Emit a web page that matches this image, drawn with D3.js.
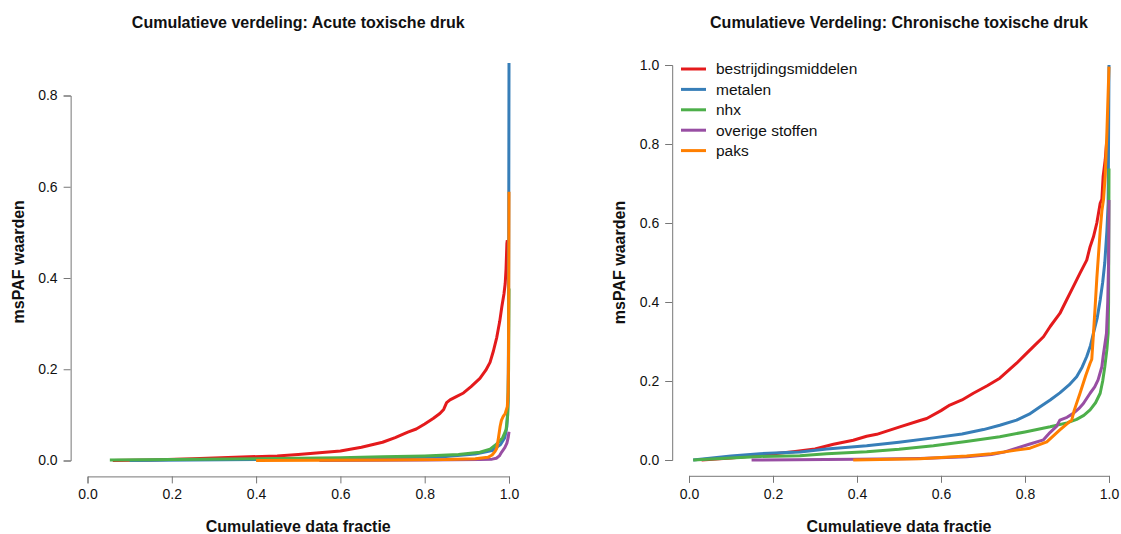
<!DOCTYPE html>
<html>
<head>
<meta charset="utf-8">
<script src="https://cdn.jsdelivr.net/npm/d3@7"></script>
<style>
  body { margin: 0; background: #fff; }
  svg { display: block; font-family: "Liberation Sans", Arial, Helvetica, sans-serif; }
</style>
</head>
<body>
<svg id="chart" width="1121" height="534"></svg>
<script>
// ---- data: cumulative data fraction (x) vs msPAF (y) per substance group ----
const seriesNames = ["bestrijdingsmiddelen", "metalen", "nhx", "overige stoffen", "paks"];
const seriesColors = ["#E41A1C", "#377EB8", "#4DAF4A", "#984EA3", "#FF7F00"];
const xTicks = [0, 0.2, 0.4, 0.6, 0.8, 1.0];
const yTicksAcute = [0, 0.2, 0.4, 0.6, 0.8];
const yTicksChronic = [0, 0.2, 0.4, 0.6, 0.8, 1.0];

// Acute toxische druk
const acuteBestrijding = [[0.06,0.0],[0.15,0.001],[0.25,0.004],[0.35,0.007],[0.45,0.010],[0.5,0.013],[0.55,0.017],[0.6,0.021],[0.65,0.029],[0.70,0.040],[0.73,0.050],[0.76,0.062],[0.78,0.069],[0.80,0.080],[0.82,0.092],[0.836,0.103],[0.845,0.112],[0.852,0.127],[0.86,0.133],[0.875,0.140],[0.892,0.148],[0.91,0.162],[0.931,0.180],[0.945,0.198],[0.955,0.215],[0.963,0.240],[0.971,0.270],[0.978,0.305],[0.983,0.337],[0.988,0.365],[0.991,0.388],[0.993,0.42],[0.995,0.476],[0.996,0.483]];
const acuteMetalen = [[0.10,0.0],[0.4,0.002],[0.7,0.005],[0.85,0.009],[0.92,0.014],[0.96,0.022],[0.98,0.035],[0.99,0.05],[0.995,0.075],[0.998,0.13],[0.999,0.3],[1.0,0.871]];
const acuteNhx = [[0.053,0.001],[0.2,0.002],[0.4,0.004],[0.6,0.006],[0.7,0.008],[0.8,0.010],[0.88,0.013],[0.931,0.018],[0.955,0.025],[0.971,0.036],[0.985,0.050],[0.993,0.067],[0.997,0.10],[0.999,0.2],[1.0,0.377]];
const acuteOverig = [[0.55,0.0],[0.8,0.001],[0.93,0.002],[0.96,0.003],[0.97,0.005],[0.977,0.010],[0.983,0.019],[0.99,0.028],[0.995,0.038],[0.998,0.05],[1.0,0.063]];
const acutePaks = [[0.40,0.0],[0.7,0.001],[0.85,0.002],[0.92,0.004],[0.95,0.007],[0.96,0.012],[0.967,0.02],[0.971,0.027],[0.975,0.05],[0.979,0.075],[0.982,0.088],[0.986,0.096],[0.991,0.103],[0.996,0.118],[0.998,0.15],[0.999,0.25],[1.0,0.589]];

// Chronische toxische druk
const chronBestrijding = [[0.03,0.0],[0.10,0.005],[0.169,0.012],[0.248,0.021],[0.3,0.028],[0.344,0.040],[0.391,0.050],[0.423,0.060],[0.447,0.065],[0.502,0.084],[0.55,0.100],[0.566,0.105],[0.6,0.125],[0.621,0.139],[0.65,0.152],[0.677,0.169],[0.71,0.188],[0.740,0.207],[0.76,0.226],[0.780,0.245],[0.80,0.266],[0.820,0.287],[0.844,0.312],[0.860,0.338],[0.883,0.371],[0.899,0.405],[0.915,0.439],[0.931,0.473],[0.947,0.506],[0.955,0.54],[0.963,0.565],[0.971,0.60],[0.979,0.65],[0.983,0.66],[0.986,0.717],[0.991,0.76],[0.994,0.80]];
const chronMetalen = [[0.01,0.0],[0.1,0.010],[0.169,0.016],[0.264,0.020],[0.328,0.028],[0.423,0.036],[0.5,0.045],[0.582,0.056],[0.65,0.066],[0.701,0.077],[0.74,0.088],[0.780,0.101],[0.81,0.116],[0.836,0.135],[0.86,0.152],[0.883,0.170],[0.905,0.19],[0.923,0.211],[0.936,0.235],[0.947,0.262],[0.956,0.29],[0.963,0.321],[0.972,0.36],[0.979,0.405],[0.985,0.45],[0.990,0.50],[0.995,0.58],[0.998,0.65],[1.0,1.0]];
const chronNhx = [[0.01,0.0],[0.1,0.005],[0.169,0.009],[0.264,0.011],[0.328,0.016],[0.423,0.021],[0.5,0.027],[0.582,0.036],[0.66,0.047],[0.740,0.059],[0.80,0.071],[0.860,0.084],[0.9,0.094],[0.923,0.103],[0.94,0.113],[0.955,0.127],[0.968,0.145],[0.979,0.169],[0.985,0.2],[0.990,0.236],[0.995,0.28],[0.998,0.321],[0.999,0.4],[1.0,0.738]];
const chronOverig = [[0.149,0.0],[0.4,0.002],[0.55,0.004],[0.661,0.008],[0.72,0.014],[0.75,0.02],[0.780,0.030],[0.81,0.04],[0.844,0.051],[0.86,0.07],[0.875,0.085],[0.883,0.101],[0.9,0.108],[0.915,0.118],[0.928,0.13],[0.939,0.143],[0.955,0.169],[0.966,0.185],[0.974,0.203],[0.983,0.236],[0.986,0.262],[0.994,0.321],[0.997,0.4],[0.999,0.5],[1.0,0.658]];
const chronPaks = [[0.391,0.0],[0.55,0.003],[0.661,0.010],[0.72,0.016],[0.780,0.025],[0.812,0.030],[0.852,0.046],[0.883,0.076],[0.907,0.098],[0.911,0.10],[0.917,0.125],[0.923,0.144],[0.931,0.169],[0.945,0.215],[0.955,0.245],[0.959,0.255],[0.963,0.32],[0.967,0.388],[0.971,0.46],[0.975,0.52],[0.979,0.58],[0.983,0.63],[0.987,0.66],[0.991,0.72],[0.995,0.83],[0.998,0.93],[1.0,0.996]];

const acuteSeries = [acuteBestrijding, acuteMetalen, acuteNhx, acuteOverig, acutePaks];
const chronSeries = [chronBestrijding, chronMetalen, chronNhx, chronOverig, chronPaks];

// ---- drawing ----
const svg = d3.select("#chart");
const axisColor = "#777";
const textColor = "#111";

function panel(opts) {
  const x = d3.scaleLinear().domain([0, 1]).range(opts.xRange);
  const y = d3.scaleLinear().domain([0, opts.yTicks[opts.yTicks.length - 1]]).range(opts.yRange);
  const xPad = 0.04;
  const yPad = 0.04 * opts.yMax;
  const left = x(-xPad);
  const bottom = y(-yPad), top = y(opts.yMax + yPad);

  const g = svg.append("g");

  // x axis
  const xAxis = g.append("g")
    .attr("transform", `translate(0,${bottom})`)
    .call(d3.axisBottom(x).tickValues(xTicks).tickFormat(d3.format(".1f"))
      .tickSize(7).tickSizeOuter(7).tickPadding(6));
  // y axis
  const yAxis = g.append("g")
    .attr("transform", `translate(${left},0)`)
    .call(d3.axisLeft(y).tickValues(opts.yTicks).tickFormat(d3.format(".1f"))
      .tickSize(7).tickSizeOuter(7).tickPadding(6));
  [xAxis, yAxis].forEach(a => {
    a.select(".domain").attr("stroke", axisColor).attr("stroke-width", 1);
    a.selectAll(".tick line").attr("stroke", axisColor).attr("stroke-width", 1);
    a.selectAll(".tick text").attr("fill", textColor)
      .style("font-size", "14px").style("font-family", "Liberation Sans, Arial, sans-serif");
  });

  // title
  g.append("text")
    .attr("x", (opts.xRange[0] + opts.xRange[1]) / 2)
    .attr("y", 28)
    .attr("text-anchor", "middle")
    .attr("fill", textColor)
    .style("font-size", "16px").style("font-weight", "bold")
    .text(opts.title);
  // axis titles
  g.append("text")
    .attr("x", (opts.xRange[0] + opts.xRange[1]) / 2)
    .attr("y", 532)
    .attr("text-anchor", "middle")
    .attr("fill", textColor)
    .style("font-size", "16px").style("font-weight", "bold")
    .text("Cumulatieve data fractie");
  g.append("text")
    .attr("transform", `translate(${opts.yTitleX},${(top + bottom) / 2}) rotate(-90)`)
    .attr("text-anchor", "middle")
    .attr("fill", textColor)
    .style("font-size", "16px").style("font-weight", "bold")
    .text("msPAF waarden");

  // curves
  const line = d3.line().x(d => x(d[0])).y(d => y(d[1]));
  opts.series.forEach((s, i) => {
    g.append("path")
      .datum(s)
      .attr("d", line)
      .attr("fill", "none")
      .attr("stroke", seriesColors[i])
      .attr("stroke-width", 3)
      .attr("stroke-linejoin", "round")
      .attr("stroke-linecap", "butt");
  });

  return { x, y, g };
}

panel({
  title: "Cumulatieve verdeling: Acute toxische druk",
  xRange: [87.5, 509],
  yRange: [460.5, 95.5],
  yTicks: yTicksAcute,
  yMax: 0.871,
  yTitleX: 24,
  series: acuteSeries
});

panel({
  title: "Cumulatieve Verdeling: Chronische toxische druk",
  xRange: [689, 1109],
  yRange: [460, 65],
  yTicks: yTicksChronic,
  yMax: 1.0,
  yTitleX: 625,
  series: chronSeries
});

// legend (top-left of the chronic panel)
const legend = svg.append("g").attr("transform", "translate(681,69)");
seriesNames.forEach((name, i) => {
  const row = legend.append("g").attr("transform", `translate(0,${i * 20.4})`);
  row.append("line")
    .attr("x1", 0).attr("x2", 25).attr("y1", 0).attr("y2", 0)
    .attr("stroke", seriesColors[i]).attr("stroke-width", 3);
  row.append("text")
    .attr("x", 35).attr("y", 0).attr("dy", "0.35em")
    .attr("fill", textColor)
    .style("font-size", "15.5px")
    .text(name);
});
</script>
</body>
</html>
